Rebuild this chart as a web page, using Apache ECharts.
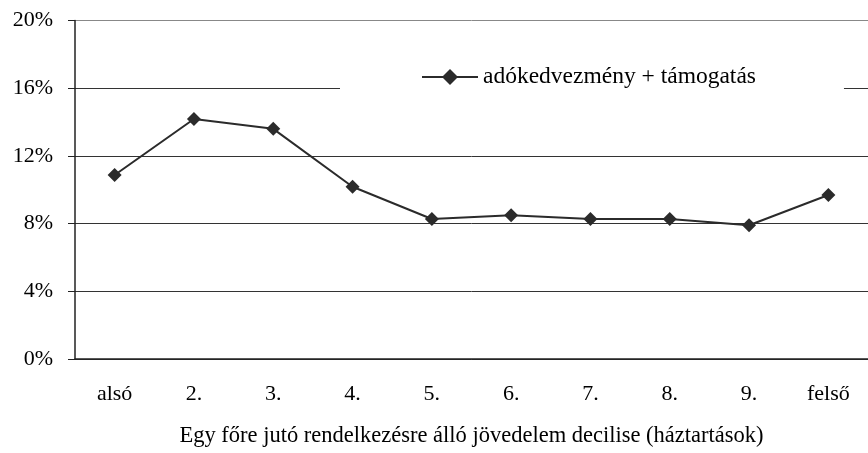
<!DOCTYPE html>
<html>
<head>
<meta charset="utf-8">
<script src="https://cdn.jsdelivr.net/npm/echarts@6/dist/echarts.min.js"></script>
<style>
  html, body { margin: 0; padding: 0; background: #fff; }
  #main { width: 868px; height: 453px; }
</style>
</head>
<body>
<div id="main"></div>
<script>
// decile categories and shares (%)
var categories = ['alsó', '2.', '3.', '4.', '5.', '6.', '7.', '8.', '9.', 'felső'];
var seriesName = 'adókedvezmény + támogatás';
var values = [10.87, 14.18, 13.6, 10.18, 8.27, 8.5, 8.27, 8.27, 7.9, 9.69];
var yTicks = [0, 4, 8, 12, 16, 20];
var xTitle = 'Egy főre jutó rendelkezésre álló jövedelem decilise (háztartások)';

var font = '"Liberation Serif", "Times New Roman", serif';
var mychart = echarts.init(document.getElementById('main'));

var option = {
    animation: false,
    backgroundColor: '#fff',
    textStyle: { fontFamily: font },
    grid: {
        left: 75,
        top: 20.5,
        bottom: 94,
        width: 802
    },
    legend: {
        data: [seriesName],
        left: 340,
        top: 53,
        padding: [12, 88, 10, 81],
        backgroundColor: '#fff',
        itemWidth: 56,
        itemHeight: 20,
        itemGap: 0,
        textStyle: { fontFamily: font, fontSize: 23.5, color: '#000' }
    },
    xAxis: {
        type: 'category',
        data: categories,
        boundaryGap: true,
        name: xTitle,
        nameLocation: 'middle',
        nameGap: 66,
        nameTextStyle: { fontFamily: font, fontSize: 22.5, color: '#000' },
        axisLine: { lineStyle: { color: '#222', width: 1.5 } },
        axisTick: { length: 8, lineStyle: { color: '#222' } },
        axisLabel: { margin: 24, fontFamily: font, fontSize: 22, color: '#000' },
        splitLine: { show: false }
    },
    yAxis: {
        type: 'value',
        min: 0,
        max: 20,
        interval: 4,
        axisLine: { show: true, lineStyle: { color: '#222', width: 1.5 } },
        axisTick: { show: true, length: 7, lineStyle: { color: '#222' } },
        axisLabel: {
            margin: 22,
            fontFamily: font,
            fontSize: 22,
            color: '#000',
            formatter: function (v) { return yTicks.indexOf(v) >= 0 ? v + '%' : ''; }
        },
        splitLine: {
            lineStyle: {
                color: ['#333', '#333', '#333', '#333', '#333', '#888'],
                width: 1
            }
        }
    },
    series: [
        {
            name: seriesName,
            type: 'line',
            data: values,
            symbol: 'diamond',
            symbolSize: 14,
            itemStyle: { color: '#2b2b2b' },
            lineStyle: { color: '#2b2b2b', width: 2 }
        }
    ]
};
mychart.setOption(option);
</script>
</body>
</html>
